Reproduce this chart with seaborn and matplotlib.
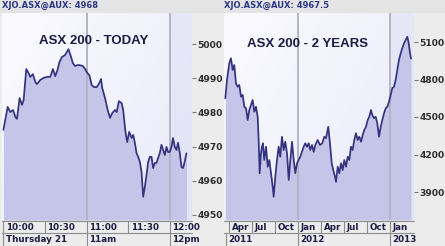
import numpy as np
import pandas as pd
import seaborn as sns
import matplotlib
matplotlib.use("Agg")
import matplotlib.pyplot as plt
import matplotlib.transforms as mtransforms
from matplotlib.colors import to_rgb

# ---------------- data ----------------
today_minutes = [0, 3.1, 5.0, 7.0, 8.6, 9.8, 11.7, 13.4, 14.6, 16.5, 18.2, 19.4, 21.3, 23.0, 24.2,
                 26.6, 29.0, 31.4, 33.8, 35.7, 37.4, 39.0, 40.4, 42.2, 44.5, 46.9, 48.6, 50.1, 51.7,
                 54.1, 57.3, 58.9, 60.6, 62.0, 63.7, 65.4, 67.3, 69.2, 70.4, 71.3, 73.3, 75.2, 76.9,
                 78.5, 80.5, 81.7, 83.3, 85.3, 86.4, 87.1, 88.1, 89.3, 90.7, 92.5, 93.6, 94.8, 96.0,
                 97.2, 98.4, 99.6, 100.8, 102.0, 103.2, 104.4, 105.6, 106.8, 108.0, 109.2, 110.4,
                 111.6, 112.8, 114.0, 115.2, 116.4, 117.6, 118.8, 120.0, 121.2, 122.3, 123.6, 124.8,
                 125.9, 127.2, 128.4, 129.5, 130.7, 132.0]
today_values = [4974.9, 4981.6, 4980.1, 4980.7, 4978.7, 4978.1, 4984.2, 4982.2, 4983.6, 4992.7,
                4991.5, 4990.4, 4991.2, 4988.9, 4988.3, 4989.5, 4990.1, 4990.4, 4990.4, 4992.7,
                4990.6, 4992.4, 4994.7, 4996.2, 4996.8, 4998.5, 4996.5, 4994.4, 4993.6, 4993.9,
                4993.6, 4992.7, 4991.5, 4990.9, 4988.0, 4987.4, 4987.4, 4988.6, 4989.8, 4987.1,
                4984.2, 4980.7, 4978.4, 4979.8, 4980.7, 4980.1, 4983.3, 4982.7, 4980.7, 4977.8,
                4974.0, 4971.3, 4974.3, 4972.5, 4973.4, 4971.1, 4968.1, 4967.0, 4965.5, 4962.6,
                4955.3, 4958.2, 4961.7, 4965.5, 4967.0, 4967.0, 4963.7, 4965.2, 4965.2, 4966.7,
                4968.1, 4970.5, 4969.0, 4967.5, 4969.9, 4968.4, 4968.4, 4969.9, 4972.5, 4969.9,
                4969.0, 4971.1, 4968.1, 4964.0, 4963.7, 4965.5, 4968.0]
today_yticks = [4950, 4960, 4970, 4980, 4990, 5000]
today_ticks = [0, 30, 60, 90, 120]
today_tick_labels = ["10:00", "10:30", "11:00", "11:30", "12:00"]
today_row2_ticks = [0, 60, 120]
today_row2_labels = ["Thursday 21", "11am", "12pm"]
today_vlines = [60, 120]
today_header = "XJO.ASX@AUX: 4968"
today_title = "ASX 200 - TODAY"

years_months = [2.52, 2.74, 3.04, 3.26, 3.48, 3.69, 3.91, 4.13, 4.34, 4.57, 4.79, 5.00, 5.22, 5.44,
                5.65, 5.87, 6.09, 6.30, 6.52, 6.74, 6.87, 7.00, 7.17, 7.30, 7.43, 7.60, 7.83, 8.05,
                8.26, 8.48, 8.70, 8.83, 9.04, 9.26, 9.48, 9.69, 9.91, 10.13, 10.34, 10.57, 10.79,
                11.00, 11.22, 11.44, 11.65, 11.87, 12.09, 12.30, 12.52, 12.74, 12.95, 13.17, 13.40,
                13.60, 13.83, 14.05, 14.26, 14.57, 14.87, 15.17, 15.43, 15.65, 15.95, 16.17, 16.40,
                16.60, 16.83, 16.96, 17.18, 17.39, 17.61, 17.83, 18.04, 18.26, 18.48, 18.69, 18.91,
                19.13, 19.34, 19.56, 19.79, 20.00, 20.22, 20.44, 20.65, 20.87, 21.09, 21.30, 21.52,
                21.69, 21.91, 22.13, 22.34, 22.57, 22.79, 23.00, 23.22, 23.44, 23.65, 23.87, 24.09,
                24.30, 24.52, 24.74, 24.95, 25.17, 25.40, 25.60, 25.83, 26.05, 26.26, 26.44, 26.61,
                26.74]
years_values = [4650, 4796, 4930, 4970, 4876, 4916, 4770, 4742, 4756, 4662, 4676, 4582, 4570, 4476,
                4556, 4596, 4636, 4542, 4582, 4502, 4316, 4050, 4210, 4262, 4290, 4156, 4262, 4102,
                4156, 4050, 3942, 3862, 4022, 4156, 4262, 4182, 4342, 4236, 4302, 4210, 3996,
                4156, 4302, 4156, 4050, 4130, 4156, 4182, 4222, 4262, 4290, 4262, 4290,
                4236, 4276, 4222, 4276, 4316, 4276, 4290, 4342, 4330, 4422, 4290, 4130,
                4076, 4022, 3982, 4102, 4050, 4130, 4076, 4156, 4102, 4182, 4156, 4262,
                4236, 4316, 4370, 4316, 4342, 4302, 4356, 4396, 4422, 4476, 4502, 4556,
                4516, 4490, 4502, 4450, 4342, 4422, 4476, 4530, 4570, 4582, 4622, 4676,
                4730, 4742, 4796, 4876, 4956, 5010, 5050, 5090, 5116, 5142, 5090, 5010,
                4967.5]
years_yticks = [3900, 4200, 4500, 4800, 5100]
years_ticks = [3, 6, 9, 12, 15, 18, 21, 24]
years_tick_labels = ["Apr", "Jul", "Oct", "Jan", "Apr", "Jul", "Oct", "Jan"]
years_row2_ticks = [2.35, 12, 24]
years_row2_labels = ["2011", "2012", "2013"]
years_vlines = [12, 24]
years_header = "XJO.ASX@AUX: 4967.5"
years_title = "ASX 200 - 2 YEARS"

# ---------------- styling ----------------
W, H = 445, 246
FIG_BG = "#ececec"
LINE_C = "#33337f"
FILL_C = "#c4c5e8"
TXT_C = "#1c1c44"
SEP_C = "#8c8c8c"

sns.set_theme(style="white")
plt.rcParams["font.family"] = ["DejaVu Sans"]

fig = plt.figure(figsize=(W / 100, H / 100), dpi=100, facecolor=FIG_BG)


def px_axes(x0, x1, y0, y1):
    return fig.add_axes([x0 / W, 1 - y1 / H, (x1 - x0) / W, (y1 - y0) / H])


def draw_panel(ax, xs, ys, xlim, ylim, yticks, ticks, tick_labels, r2_ticks, r2_labels,
               vlines, title, title_x, title_y, header, header_x):
    # gradient background
    g = np.linspace(0, 1, 64)
    gx, gy = np.meshgrid(g, g[::-1])
    t = np.clip(0.55 * gx + 0.35 * (1 - gy), 0, 1)
    c0 = np.array(to_rgb("#fbfbff"))
    c1 = np.array(to_rgb("#e6e8f7"))
    img = c0[None, None, :] * (1 - t[..., None]) + c1[None, None, :] * t[..., None]
    ax.imshow(img, extent=[0, 1, 0, 1], transform=ax.transAxes, aspect="auto", zorder=0,
              interpolation="bilinear")
    # slightly tinted strip after the last divider
    ax.axvspan(vlines[-1], xlim[1], color="#dfe1f5", alpha=0.6, zorder=0.5, lw=0)

    df = pd.DataFrame({"x": xs, "y": ys})
    ax.fill_between(df["x"], df["y"], ylim[0], color=FILL_C, lw=0, zorder=1)
    for v in vlines:
        ax.axvline(v, color="#b4b4c4", lw=1.4, zorder=1.5)
    sns.lineplot(data=df, x="x", y="y", ax=ax, color=LINE_C, lw=1.25, zorder=2)

    ax.set_xlim(*xlim)
    ax.set_ylim(*ylim)
    ax.set_xlabel("")
    ax.set_ylabel("")
    ax.set_xticks([])
    ax.yaxis.tick_right()
    ax.set_yticks(yticks)
    ax.set_yticklabels([str(v) for v in yticks])
    ax.tick_params(axis="y", length=3, width=0.8, color="#777777", pad=1,
                   labelsize=6.6, labelcolor="#2e2e2e", right=True, left=False)
    for lab in ax.get_yticklabels():
        lab.set_fontweight("bold")
    for s in ax.spines.values():
        s.set_visible(False)

    ax.text(title_x, title_y, title, transform=ax.transAxes, ha="center", va="center",
            fontsize=9.5, fontweight="bold", color=TXT_C, family=["Liberation Sans"], zorder=3)

    # two label rows under the axis
    ah = 207.0
    r1_top, r1_bot, r2_bot = -1 / ah, -13 / ah, -26 / ah
    tr = mtransforms.blended_transform_factory(ax.transData, ax.transAxes)
    tro = mtransforms.offset_copy(tr, fig=fig, x=2.5, y=0, units="dots")
    ax.plot(list(xlim), [r1_top, r1_top], transform=tr, color=SEP_C, lw=0.8, clip_on=False)
    ax.plot(list(xlim), [r1_bot, r1_bot], transform=tr, color=SEP_C, lw=0.8, clip_on=False)
    for tk, lb in zip(ticks, tick_labels):
        tk = max(tk, xlim[0] + 0.2)
        ax.plot([tk, tk], [r1_top, r1_bot], transform=tr, color=SEP_C, lw=0.8, clip_on=False)
        ax.text(tk, (r1_top + r1_bot) / 2, lb, transform=tro, ha="left", va="center",
                fontsize=6.3, fontweight="bold", color=TXT_C)
    for tk, lb in zip(r2_ticks, r2_labels):
        tk = max(tk, xlim[0] + 0.2)
        ax.plot([tk, tk], [r1_bot, r2_bot], transform=tr, color=SEP_C, lw=0.8, clip_on=False)
        ax.text(tk, (r1_bot + r2_bot) / 2, lb, transform=tro, ha="left", va="center",
                fontsize=6.3, fontweight="bold", color=TXT_C)

    fig.text(header_x / W, 1 - 5.5 / H, header, ha="left", va="center", fontsize=6.0,
             fontweight="bold", color="#2c3888")


# header band
fig.patches.append(plt.Rectangle((0, 1 - 12 / H), 1, 12 / H, transform=fig.transFigure,
                                 color="#e4e4e4", zorder=-1))

ax1 = px_axes(2, 192, 13, 220)
draw_panel(ax1, today_minutes, today_values, (-1, 136), (4948.5, 5009.1), today_yticks,
           today_ticks, today_tick_labels, today_row2_ticks, today_row2_labels, today_vlines,
           today_title, 0.485, 0.865, today_header, 2)

ax2 = px_axes(224, 414, 13, 220)
draw_panel(ax2, years_months, years_values, (2.35, 27.13), (3676, 5332), years_yticks,
           years_ticks, years_tick_labels, years_row2_ticks, years_row2_labels, years_vlines,
           years_title, 0.44, 0.85, years_header, 224)

fig.savefig("out.png", dpi=100, facecolor=FIG_BG)
